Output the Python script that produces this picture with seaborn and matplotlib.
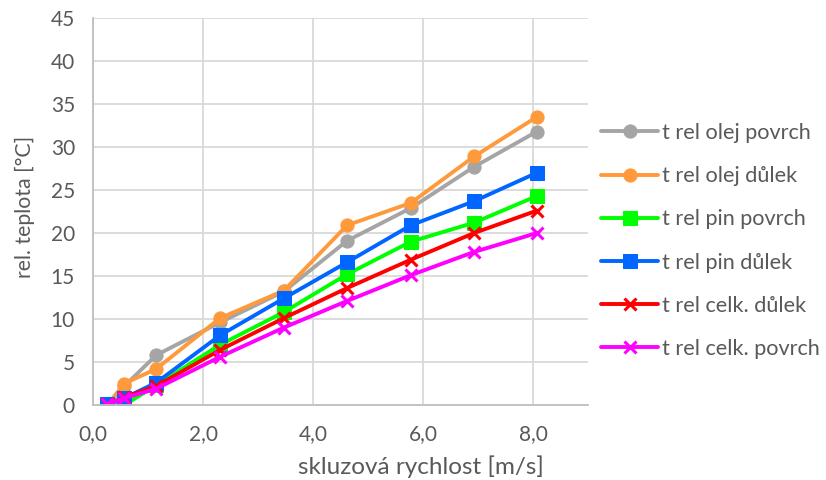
import matplotlib
matplotlib.use("Agg")
import matplotlib.pyplot as plt
import seaborn as sns
import pandas as pd

speed = [0.26, 0.57, 1.15, 2.31, 3.47, 4.62, 5.78, 6.93, 8.07]
olej_povrch = [0.0, 2.2, 5.8, 9.6, 13.2, 19.1, 22.9, 27.7, 31.8]
olej_dulek = [0.0, 2.5, 4.2, 10.1, 13.3, 20.9, 23.5, 28.9, 33.5]
pin_povrch = [0.0, 0.0, 2.3, 7.0, 10.8, 15.2, 19.0, 21.2, 24.3]
pin_dulek = [0.1, 0.8, 2.6, 8.1, 12.4, 16.6, 20.9, 23.7, 27.0]
celk_dulek = [0.1, 0.9, 2.2, 6.4, 10.1, 13.6, 16.9, 20.0, 22.6]
celk_povrch = [0.1, 0.8, 1.9, 5.6, 9.0, 12.1, 15.1, 17.8, 20.0]

names = ["t rel olej povrch", "t rel olej důlek", "t rel pin povrch",
         "t rel pin důlek", "t rel celk. důlek", "t rel celk. povrch"]
series = [olej_povrch, olej_dulek, pin_povrch, pin_dulek, celk_dulek, celk_povrch]
colors = ["#a5a5a5", "#ff9a3c", "#00ff00", "#0066ff", "#ff0000", "#ff00ff"]
markers = ["o", "o", "s", "s", "x", "x"]

sns.set_theme(style="white")
plt.rcParams['font.family'] = ['Lato', 'DejaVu Sans']
text_color = "#595959"

fig = plt.figure(figsize=(8.26, 4.80), dpi=100)
ax = fig.add_axes([93/826, 1 - 405/480, (588-93)/826, (405-18)/480])

for name, vals, c, m in zip(names, series, colors, markers):
    df = pd.DataFrame({"x": speed, "y": vals})
    kw = dict(markersize=9.5, markeredgecolor=c, markerfacecolor=c)
    if m == "x":
        kw = dict(markersize=9, markeredgewidth=2.2, markeredgecolor=c)
    sns.lineplot(data=df, x="x", y="y", ax=ax, color=c, linewidth=2.8,
                 marker=m, label=name, sort=False, **kw)

ax.set_xlim(0, 9)
ax.set_ylim(0, 45)
ax.set_xticks([0, 2, 4, 6, 8])
ax.set_xticklabels(["0,0", "2,0", "4,0", "6,0", "8,0"])
ax.set_yticks(range(0, 46, 5))
ax.grid(True, color="#d9d9d9", linewidth=1.3)
ax.set_axisbelow(True)
for s in ["top", "right"]:
    ax.spines[s].set_visible(False)
for s in ["left", "bottom"]:
    ax.spines[s].set_color("#bfbfbf")
    ax.spines[s].set_linewidth(1.3)
ax.tick_params(axis="both", colors="#bfbfbf", labelcolor=text_color,
               labelsize=15, length=5, width=1.2, direction="out")
ax.tick_params(axis="y", pad=8)
ax.tick_params(axis="x", pad=9)
ax.set_xlabel("")
ax.set_ylabel("")
fig.text(421/826, 1 - 467/480, "skluzová rychlost [m/s]", fontsize=17.5,
         color=text_color, ha="center", va="center")
fig.text(25/826, 1 - 207/480, "rel. teplota [°C]", fontsize=15.3,
         color=text_color, ha="center", va="center", rotation=90)

leg = ax.legend(loc="center left", bbox_to_anchor=(601/826, 1 - 241/480),
                bbox_transform=fig.transFigure, frameon=False,
                fontsize=15.6, handlelength=2.65, handletextpad=0.15,
                labelspacing=1.07, borderaxespad=0, borderpad=0, numpoints=1)
for t in leg.get_texts():
    t.set_color(text_color)

fig.savefig("out.png", dpi=100)
